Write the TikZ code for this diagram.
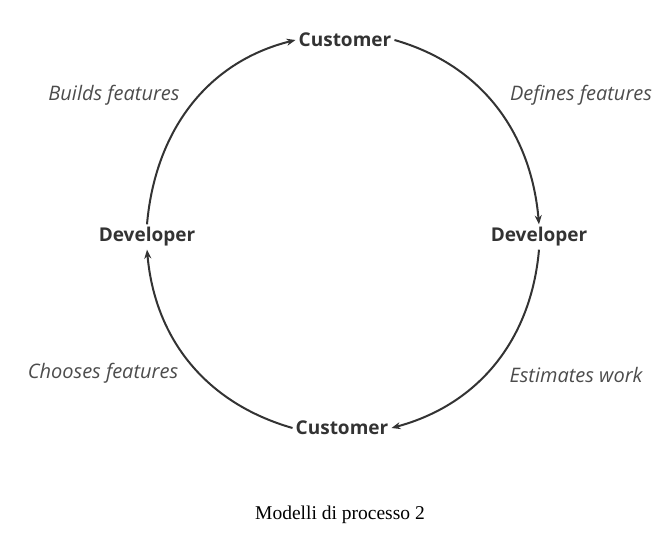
\documentclass[tikz,border=0pt]{standalone}
\usepackage{fontspec}
\setmainfont{Liberation Serif}
\newfontfamily\diagfont{Open Sans}
\usepackage{tikz}
\usetikzlibrary{arrows.meta}

\begin{document}
\begin{tikzpicture}[x=1pt,y=1pt,
    role/.style={font=\diagfont\bfseries\fontsize{19}{22}\selectfont, text=black!80, inner sep=3pt},
    action/.style={font=\diagfont\itshape\fontsize{20}{23}\selectfont, text=black!70},
    flow/.style={-{Stealth[length=9pt,width=7pt]}, line width=2pt, black!80}]
            \useasboundingbox (0,0) rectangle (666,552);

            % Roles on the circle
            \node[role] (topcust) at (345,512) {Customer};
            \node[role] (rightdev) at (539,315) {Developer};
            \node[role] (leftdev) at (147,315) {Developer};
            \node[role] (botcust) at (342,124) {Customer};

            % Actions along the arcs
            \node[action] (builds) at (114,457) {Builds features};
            \node[action] (defines) at (581,457) {Defines features};
            \node[action] (chooses) at (103,179) {Chooses features};
            \node[action] (estimates) at (576,177) {Estimates work};

            % Arcs of the cycle
            \draw[flow] (topcust.east) to[out=-16, in=95] (rightdev.north);
            \draw[flow] (rightdev.south) to[out=-95, in=15] (botcust.east);
            \draw[flow] (botcust.west) to[out=164, in=-85] (leftdev.south);
            \draw[flow] (leftdev.north) to[out=85, in=194] (topcust.west);

            % Caption
            \node[font=\fontsize{19.5}{23}\selectfont] (caption) at (340,37) {Modelli di processo 2};
        \end{tikzpicture}
\end{document}
